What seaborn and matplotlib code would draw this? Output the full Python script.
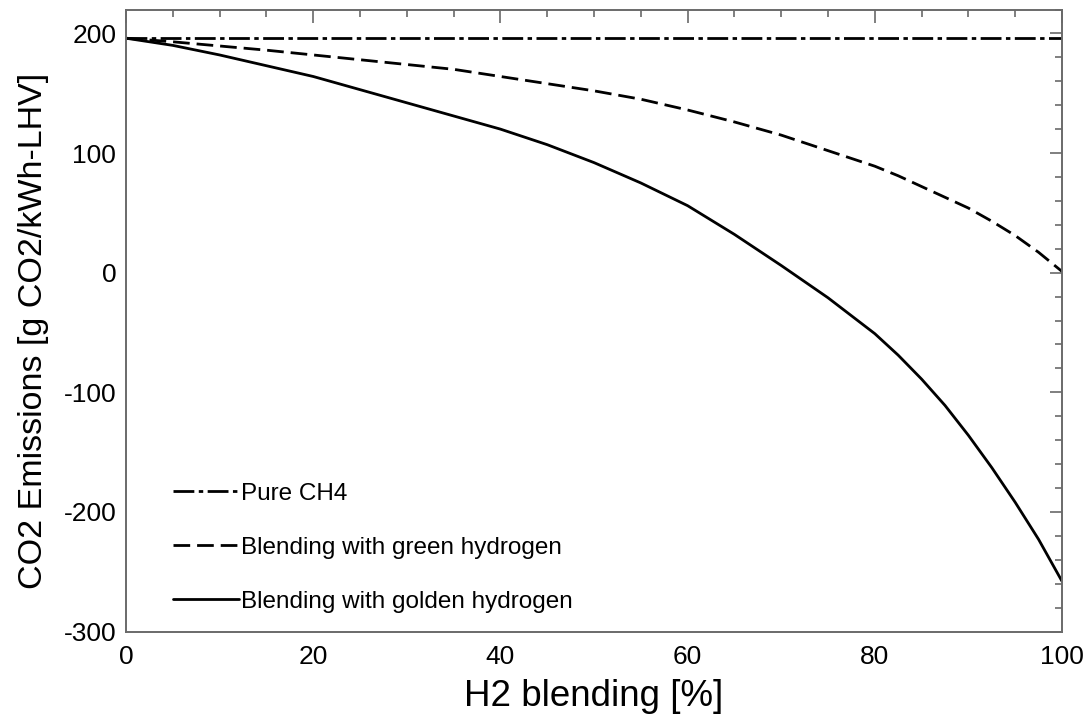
import numpy as np
import pandas as pd
import matplotlib
matplotlib.use("Agg")
import matplotlib.pyplot as plt
from matplotlib.ticker import MultipleLocator
import seaborn as sns

# ---- data ----
h2_blend = [0, 5, 10, 15, 20, 25, 30, 35, 40, 45, 50, 55, 60, 65, 70, 75, 80,
            82.5, 85, 87.5, 90, 92.5, 95, 97.5, 100]
pure_ch4 = [196] * len(h2_blend)
green_h2 = [196, 193, 189.5, 186, 182, 178, 174, 170, 164, 158, 152, 145, 136, 126, 115, 102, 89,
            81, 72, 63, 54, 43, 31, 17, 1]
golden_h2 = [196, 190, 182, 173, 164, 153, 142, 131, 120, 107, 92, 75, 56, 32, 6, -21, -51,
             -69, -89, -111, -136, -163, -192, -223, -258]
labels = ["Pure CH4", "Blending with green hydrogen", "Blending with golden hydrogen"]

sns.set_theme(style="white")
plt.rcParams['font.family'] = ['Liberation Sans', 'DejaVu Sans']
plt.rcParams['axes.unicode_minus'] = False

fig = plt.figure(figsize=(10.89, 7.19), dpi=100)
ax = fig.add_axes([126/1089, 1 - 631.5/719, (1062-126)/1089, (631.5-9.5)/719])

lw = 2.0
styles = [(0, (7.5, 1.6, 1.6, 1.6)), (0, (6, 2.5)), '-']
for vals, lab, ls in zip([pure_ch4, green_h2, golden_h2], labels, styles):
    df = pd.DataFrame({"x": h2_blend, "y": vals})
    sns.lineplot(data=df, x="x", y="y", ax=ax, color="black", lw=lw,
                 linestyle=ls, label=lab)

ax.set_xlim(0, 100)
ax.set_ylim(-300, 220)
ax.xaxis.set_major_locator(MultipleLocator(20))
ax.xaxis.set_minor_locator(MultipleLocator(5))
ax.yaxis.set_major_locator(MultipleLocator(100))
ax.yaxis.set_minor_locator(MultipleLocator(20))

spine_col = "#6a6a6a"
for s in ax.spines.values():
    s.set_color(spine_col)
    s.set_linewidth(1.4)
    s.set_visible(True)
ax.tick_params(which="both", direction="in", top=True, right=True,
               color=spine_col, width=1.2, labelsize=19, labelcolor="black")
ax.tick_params(which="major", length=9, pad=7)
ax.tick_params(which="minor", length=5)
ax.tick_params(axis="x", which="major", pad=10)

ax.set_xlabel("H2 blending [%]", fontsize=26.5, color="black", labelpad=7)
ax.set_ylabel("CO2 Emissions [g CO2/kWh-LHV]", fontsize=24.5, color="black")
ax.yaxis.set_label_coords(-0.082, 0.483)

leg = ax.legend(loc="upper left", bbox_to_anchor=(0.04, 0.255), frameon=False,
                fontsize=17.5, handlelength=2.7, handletextpad=0.1,
                labelspacing=1.32, borderaxespad=0)
for t in leg.get_texts():
    t.set_color("black")

fig.savefig("out.png", dpi=100)
